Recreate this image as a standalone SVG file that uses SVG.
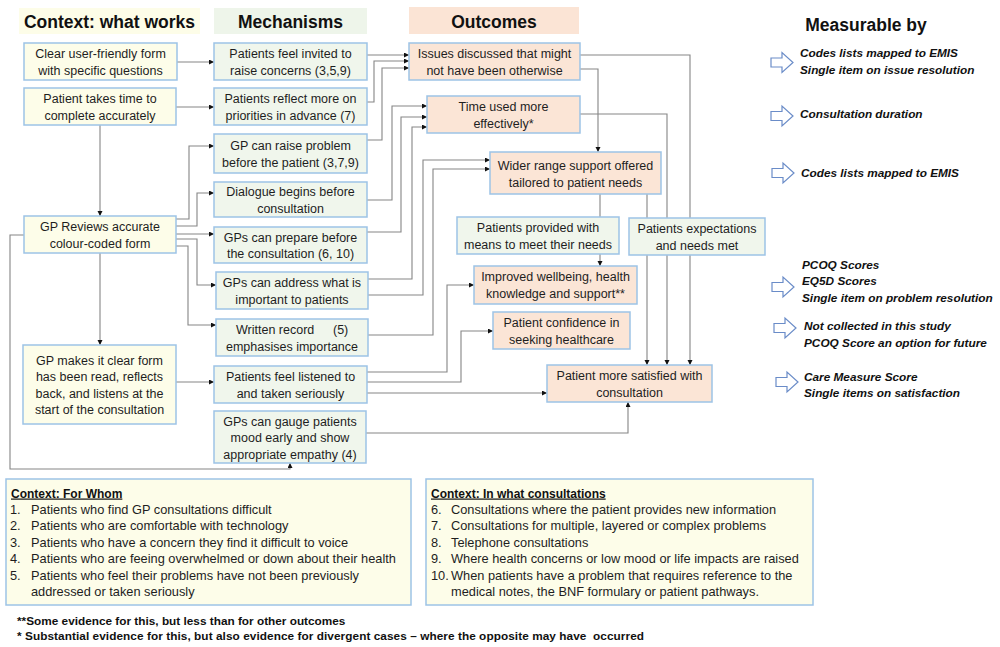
<svg xmlns="http://www.w3.org/2000/svg" width="1000" height="647" viewBox="0 0 1000 647">
<style>
.bg{fill:#ffffff}
.ctx{fill:#fdfde9;stroke:#9dc3e6;stroke-width:1.5}
.mech{fill:#f0f6ec;stroke:#9dc3e6;stroke-width:1.5}
.out{fill:#fbe5d6;stroke:#9dc3e6;stroke-width:1.5}
.t{font-family:"Liberation Sans",Arial,sans-serif;font-size:12.5px;fill:#1e1e1e;text-anchor:middle}
.h{font-family:"Liberation Sans",Arial,sans-serif;font-size:17.5px;font-weight:bold;fill:#111;text-anchor:middle}
.m{font-family:"Liberation Sans",Arial,sans-serif;font-size:11.8px;font-weight:bold;font-style:italic;fill:#111}
.l{font-family:"Liberation Sans",Arial,sans-serif;font-size:12.8px;fill:#1e1e1e}
.lt{font-family:"Liberation Sans",Arial,sans-serif;font-size:12px;font-weight:bold;fill:#111;text-decoration:underline}
.f{font-family:"Liberation Sans",Arial,sans-serif;font-size:11.8px;font-weight:bold;fill:#111;white-space:pre}
.c{fill:none;stroke:#858585;stroke-width:1.1;marker-end:url(#ah)}
.ba{fill:#ffffff;stroke:#6a8cc8;stroke-width:1.2}
</style>
<defs>
<marker id="ah" markerWidth="6" markerHeight="6" refX="5" refY="2.5" orient="auto" markerUnits="userSpaceOnUse">
<path d="M0,0 L5,2.5 L0,5 Z" fill="#111"/>
</marker>
<path id="blk" d="M0,-4.5 H11 V-10 L22,0 L11,10 V4.5 H0 Z"/>
</defs>
<rect class="bg" x="0" y="0" width="1000" height="647"/>

<g id="headers">
<rect x="19" y="8" width="181" height="26" fill="#fdfde8"/>
<text class="h" x="109.5" y="28">Context: what works</text>
<rect x="214" y="8" width="153" height="26" fill="#eef5ea"/>
<text class="h" x="290.5" y="28">Mechanisms</text>
<rect x="409" y="7" width="170" height="27" fill="#fbe4d5"/>
<text class="h" x="494" y="28">Outcomes</text>
<text class="h" x="866" y="31">Measurable by</text>
</g>

<g id="connectors">
<polyline class="c" points="177,62 214,62"/>
<polyline class="c" points="176,107 214,107"/>
<polyline class="c" points="100,125 100,216"/>
<polyline class="c" points="176,219 189,219 189,146 214,146"/>
<polyline class="c" points="176,226 197,226 197,193 214,193"/>
<polyline class="c" points="176,234 214,234"/>
<polyline class="c" points="176,239 197,239 197,285 216,285"/>
<polyline class="c" points="176,246 188,246 188,325 216,325"/>
<polyline class="c" points="100,253 100,345"/>
<polyline class="c" points="24,235 10,235 10,469 290,469 290,463"/>
<polyline class="c" points="176,382 214,382"/>
<polyline class="c" points="367,55 409,55"/>
<polyline class="c" points="367,102 374,102 374,61 409,61"/>
<polyline class="c" points="367,140 382,140 382,68 409,68"/>
<polyline class="c" points="367,200 392,200 392,106 427,106"/>
<polyline class="c" points="367,232 401,232 401,117 427,117"/>
<polyline class="c" points="368,279 412,279 412,127 427,127"/>
<polyline class="c" points="368,295 423,295 423,160 490,160"/>
<polyline class="c" points="368,335 433,335 433,169 490,169"/>
<polyline class="c" points="367,372 447,372 447,285 474,285"/>
<polyline class="c" points="367,382 461,382 461,331 493,331"/>
<polyline class="c" points="367,393 547,393"/>
<polyline class="c" points="366,433 628,433 628,402"/>
<polyline class="c" points="580,69 598,69 598,152"/>
<polyline class="c" points="580,55 690,55 690,365"/>
<polyline class="c" points="580,114 667,114 667,365"/>
<polyline class="c" points="647,194 647,365"/>
<polyline class="c" points="600,194 600,266"/>
</g>

<g id="c1"><rect class="ctx" x="24" y="43" width="153" height="37"/>
<text class="t" x="100.5" y="58">Clear user-friendly form</text><text class="t" x="100.5" y="75">with specific questions</text></g>
<g id="c2"><rect class="ctx" x="24" y="88" width="152" height="37"/>
<text class="t" x="100" y="103">Patient takes time to</text><text class="t" x="100" y="120">complete accurately</text></g>
<g id="c3"><rect class="ctx" x="24" y="216" width="152" height="37"/>
<text class="t" x="100" y="231">GP Reviews accurate</text><text class="t" x="100" y="248">colour-coded form</text></g>
<g id="c4"><rect class="ctx" x="23" y="345" width="153" height="79"/>
<text class="t" x="99.5" y="364.5">GP makes it clear form</text><text class="t" x="99.5" y="381">has been read, reflects</text><text class="t" x="99.5" y="397.5">back, and listens at the</text><text class="t" x="99.5" y="414">start of the consultation</text></g>

<g id="m1"><rect class="mech" x="214" y="43" width="153" height="37"/>
<text class="t" x="290.5" y="58">Patients feel invited to</text><text class="t" x="290.5" y="75">raise concerns (3,5,9)</text></g>
<g id="m2"><rect class="mech" x="214" y="88" width="153" height="37"/>
<text class="t" x="290.5" y="103">Patients reflect more on</text><text class="t" x="290.5" y="120">priorities in advance (7)</text></g>
<g id="m3"><rect class="mech" x="214" y="134" width="153" height="39"/>
<text class="t" x="290.5" y="150">GP can raise problem</text><text class="t" x="290.5" y="167">before the patient (3,7,9)</text></g>
<g id="m4"><rect class="mech" x="214" y="182" width="153" height="35"/>
<text class="t" x="290.5" y="196">Dialogue begins before</text><text class="t" x="290.5" y="213">consultation</text></g>
<g id="m5"><rect class="mech" x="214" y="227" width="153" height="36"/>
<text class="t" x="290.5" y="241.5">GPs can prepare before</text><text class="t" x="290.5" y="258">the consultation (6, 10)</text></g>
<g id="m6"><rect class="mech" x="216" y="272" width="152" height="37"/>
<text class="t" x="292" y="287">GPs can address what is</text><text class="t" x="292" y="304">important to patients</text></g>
<g id="m7"><rect class="mech" x="216" y="319" width="152" height="37"/>
<text class="t" x="236" y="334" style="text-anchor:start">Written record</text><text class="t" x="333" y="334" style="text-anchor:start">(5)</text><text class="t" x="292" y="351">emphasises importance</text></g>
<g id="m8"><rect class="mech" x="214" y="366" width="153" height="37"/>
<text class="t" x="290.5" y="381">Patients feel listened to</text><text class="t" x="290.5" y="398">and taken seriously</text></g>
<g id="m9"><rect class="mech" x="214" y="411" width="152" height="52"/>
<text class="t" x="290" y="425.5">GPs can gauge patients</text><text class="t" x="290" y="442">mood early and show</text><text class="t" x="290" y="458.5">appropriate empathy (4)</text></g>

<g id="o1"><rect class="out" x="409" y="43" width="171" height="37"/>
<text class="t" x="494.5" y="58">Issues discussed that might</text><text class="t" x="494.5" y="75">not have been otherwise</text></g>
<g id="o2"><rect class="out" x="427" y="96" width="153" height="37"/>
<text class="t" x="503.5" y="111">Time used more</text><text class="t" x="503.5" y="128">effectively*</text></g>
<g id="o3"><rect class="out" x="490" y="152" width="171" height="42"/>
<text class="t" x="575.5" y="170">Wider range support offered</text><text class="t" x="575.5" y="187">tailored to patient needs</text></g>
<g id="g1"><rect class="mech" x="457" y="217" width="162" height="37"/>
<text class="t" x="538" y="232">Patients provided with</text><text class="t" x="538" y="249">means to meet their needs</text></g>
<g id="g2"><rect class="mech" x="629" y="218" width="136" height="37"/>
<text class="t" x="697" y="233">Patients expectations</text><text class="t" x="697" y="250">and needs met</text></g>
<g id="o4"><rect class="out" x="474" y="266" width="163" height="38"/>
<text class="t" x="555.5" y="281">Improved wellbeing, health</text><text class="t" x="555.5" y="298">knowledge and support**</text></g>
<g id="o5"><rect class="out" x="493" y="312" width="137" height="37"/>
<text class="t" x="561.5" y="327">Patient confidence in</text><text class="t" x="561.5" y="344">seeking healthcare</text></g>
<g id="o6"><rect class="out" x="547" y="365" width="165" height="37"/>
<text class="t" x="629.5" y="380">Patient more satisfied with</text><text class="t" x="629.5" y="397">consultation</text></g>

<g id="measures">
<use href="#blk" class="ba" x="771" y="62.5"/>
<text class="m" x="800" y="57">Codes lists mapped to EMIS</text>
<text class="m" x="800" y="74">Single item on issue resolution</text>
<use href="#blk" class="ba" x="771" y="116"/>
<text class="m" x="800" y="118">Consultation duration</text>
<use href="#blk" class="ba" x="772" y="173"/>
<text class="m" x="801" y="177">Codes lists mapped to EMIS</text>
<use href="#blk" class="ba" x="772" y="287"/>
<text class="m" x="802" y="269">PCOQ Scores</text>
<text class="m" x="802" y="285">EQ5D Scores</text>
<text class="m" x="802" y="302">Single item on problem resolution</text>
<use href="#blk" class="ba" x="774" y="328"/>
<text class="m" x="804" y="330">Not collected in this study</text>
<text class="m" x="804" y="347">PCOQ Score an option for future</text>
<use href="#blk" class="ba" x="776" y="382"/>
<text class="m" x="804" y="381">Care Measure Score</text>
<text class="m" x="804" y="397">Single items on satisfaction</text>
</g>

<g id="forwhom"><rect class="ctx" x="6" y="479" width="405" height="126"/>
<text class="lt" x="11" y="497.5">Context: For Whom</text>
<text class="l" x="10" y="513.5">1.</text><text class="l" x="31" y="513.5">Patients who find GP consultations difficult</text>
<text class="l" x="10" y="530">2.</text><text class="l" x="31" y="530">Patients who are comfortable with technology</text>
<text class="l" x="10" y="546.5">3.</text><text class="l" x="31" y="546.5">Patients who have a concern they find it difficult to voice</text>
<text class="l" x="10" y="563">4.</text><text class="l" x="31" y="563">Patients who are feeing overwhelmed or down about their health</text>
<text class="l" x="10" y="579.5">5.</text><text class="l" x="31" y="579.5">Patients who feel their problems have not been previously</text>
<text class="l" x="31" y="596">addressed or taken seriously</text>
</g>
<g id="inwhat"><rect class="ctx" x="426" y="479" width="387" height="126"/>
<text class="lt" x="431" y="497.5">Context: In what consultations</text>
<text class="l" x="431" y="513.5">6.</text><text class="l" x="451" y="513.5">Consultations where the patient provides new information</text>
<text class="l" x="431" y="530">7.</text><text class="l" x="451" y="530">Consultations for multiple, layered or complex problems</text>
<text class="l" x="431" y="546.5">8.</text><text class="l" x="451" y="546.5">Telephone consultations</text>
<text class="l" x="431" y="563">9.</text><text class="l" x="451" y="563">Where health concerns or low mood or life impacts are raised</text>
<text class="l" x="431" y="579.5">10.</text><text class="l" x="451" y="579.5">When patients have a problem that requires reference to the</text>
<text class="l" x="451" y="596">medical notes, the BNF formulary or patient pathways.</text>
</g>
<g id="notes">
<text class="f" x="17" y="625">**Some evidence for this, but less than for other outcomes</text>
<text class="f" x="17" y="640" textLength="627" lengthAdjust="spacing">* Substantial evidence for this, but also evidence for divergent cases – where the opposite may have  occurred</text>
</g>
</svg>
